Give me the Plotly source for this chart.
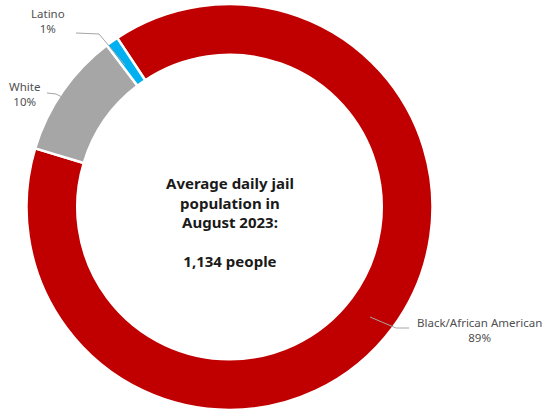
import plotly.graph_objects as go

W, H = 545, 412
labels = ["Black/African American", "White", "Latino"]
values = [89, 10, 1]
pct_labels = ["89%", "10%", "1%"]
colors = ["#C00000", "#A6A6A6", "#00B0F0"]
center_lines = ["Average daily jail", "population in", "August 2023:", "", "1,134 people"]

def px(x):
    return x / W

def py(y):
    return 1 - y / H

fig = go.Figure(go.Pie(
    labels=labels, values=values, sort=False, direction="clockwise",
    rotation=-33.6, hole=0.75,
    marker=dict(colors=colors, line=dict(color="white", width=2.5)),
    textinfo="none", hoverinfo="label+percent", showlegend=False,
    domain=dict(x=[px(26.5), px(432.5)], y=[py(410), py(4)]),
))

lab_font = dict(family="Noto Sans, sans-serif", size=11.5, color="#505050")
label_pos = [(479, 330), (24, 94), (48, 21)]
for name, pct, (x, y) in zip(labels, pct_labels, label_pos):
    fig.add_annotation(x=px(x), y=py(y), xref="paper", yref="paper",
                       text=f"{name}<br>{pct}", showarrow=False, font=lab_font,
                       align="center", xanchor="center", yanchor="middle")

leaders = [
    [(370, 317), (396, 328), (409, 328)],
    [(47, 93), (56, 94), (62, 97)],
    [(76, 33), (99, 34), (125, 65)],
]
for pts in leaders:
    path = "M " + " L ".join(f"{px(x)},{py(y)}" for x, y in pts)
    fig.add_shape(type="path", path=path, xref="paper", yref="paper",
                  line=dict(color="#A6A6A6", width=1))

fig.add_annotation(x=px(229.5), y=py(222), xref="paper", yref="paper",
                   text="<b>" + "<br>".join(center_lines) + "</b>", showarrow=False,
                   font=dict(family="Noto Sans, sans-serif", size=15, color="#1a1a1a"),
                   align="center", xanchor="center", yanchor="middle")

fig.update_layout(width=W, height=H, margin=dict(l=0, r=0, t=0, b=0),
                  paper_bgcolor="white", plot_bgcolor="white")
fig.write_html("out.html", config={"displayModeBar": False},
               post_script="document.body.style.margin='0';")
